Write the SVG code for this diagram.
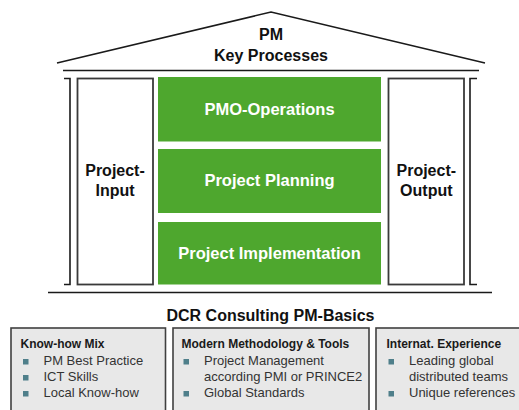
<svg xmlns="http://www.w3.org/2000/svg" width="519" height="410" viewBox="0 0 519 410">
<style>
.line{fill:none;stroke:#1a1a1a;stroke-width:1.6}
.col{fill:#fff;stroke:#3a3a3a;stroke-width:1.8}
.green{fill:#4ea72e}
.wt{font-family:"Liberation Sans",Arial,sans-serif;font-weight:bold;font-size:16.5px;fill:#fff;text-anchor:middle}
.bt{font-family:"Liberation Sans",Arial,sans-serif;font-weight:bold;font-size:16px;fill:#111;text-anchor:middle}
.box{fill:#e8e8e8;stroke:#404040;stroke-width:1.6}
.hd{font-family:"Liberation Sans",Arial,sans-serif;font-weight:bold;font-size:12px;fill:#1a1a1a}
.it{font-family:"Liberation Sans",Arial,sans-serif;font-size:13px;fill:#333}
.bul{fill:#4f7f8a}
</style>
<rect width="519" height="410" fill="#fff"/>
<g id="roof">
<polyline class="line" points="57,63 271,12 485,63"/>
<line class="line" x1="63" y1="70.5" x2="479" y2="70.5"/>
<text class="bt" x="271" y="40" font-size="17">PM</text>
<text class="bt" x="271" y="61">Key Processes</text>
</g>
<g id="base">
<line class="line" x1="48" y1="292.5" x2="492" y2="292.5"/>
</g>
<g id="pillar-left">
<polyline class="line" points="64,78.5 70,78.5 70,284.5 64,284.5" stroke="#3a3a3a" stroke-width="1.8"/>
<rect class="col" x="77.5" y="78.5" width="75.5" height="206"/>
<text class="bt" x="115" y="176">Project-</text>
<text class="bt" x="115" y="196">Input</text>
</g>
<g id="pillar-right">
<polyline class="line" points="477,78.5 470,78.5 470,284.5 477,284.5" stroke="#3a3a3a" stroke-width="1.8"/>
<rect class="col" x="388.5" y="78.5" width="75.5" height="206"/>
<text class="bt" x="426.3" y="176">Project-</text>
<text class="bt" x="426.3" y="196">Output</text>
</g>
<g id="pmo-operations">
<rect class="green" x="158" y="77" width="223" height="64.5"/>
<text class="wt" x="269.5" y="115">PMO-Operations</text>
</g>
<g id="project-planning">
<rect class="green" x="158" y="149" width="223" height="64"/>
<text class="wt" x="269.5" y="186">Project Planning</text>
</g>
<g id="project-implementation">
<rect class="green" x="158" y="222" width="223" height="62.5"/>
<text class="wt" x="269.5" y="259">Project Implementation</text>
</g>
<g id="basics-title">
<text class="bt" x="270.5" y="321">DCR Consulting PM-Basics</text>
</g>
<g id="knowhow">
<rect class="box" x="11" y="328" width="154.5" height="100"/>
<text class="hd" x="20.5" y="348">Know-how Mix</text>
<rect class="bul" x="23" y="359" width="5.5" height="5.5"/>
<text class="it" x="43.5" y="365">PM Best Practice</text>
<rect class="bul" x="23" y="375" width="5.5" height="5.5"/>
<text class="it" x="43.5" y="381">ICT Skills</text>
<rect class="bul" x="23" y="391" width="5.5" height="5.5"/>
<text class="it" x="43.5" y="397">Local Know-how</text>
</g>
<g id="methodology">
<rect class="box" x="173" y="328" width="196" height="100"/>
<text class="hd" x="181.5" y="348">Modern Methodology &amp; Tools</text>
<rect class="bul" x="183.5" y="359" width="5.5" height="5.5"/>
<text class="it" x="204" y="365">Project Management</text>
<text class="it" x="204" y="381">according PMI or PRINCE2</text>
<rect class="bul" x="183.5" y="391" width="5.5" height="5.5"/>
<text class="it" x="204" y="397">Global Standards</text>
</g>
<g id="experience">
<rect class="box" x="376" y="328" width="160" height="100"/>
<text class="hd" x="386.5" y="348">Internat. Experience</text>
<rect class="bul" x="388.5" y="359" width="5.5" height="5.5"/>
<text class="it" x="409" y="365">Leading global</text>
<text class="it" x="409" y="381">distributed teams</text>
<rect class="bul" x="388.5" y="391" width="5.5" height="5.5"/>
<text class="it" x="409" y="397">Unique references</text>
</g>
<g id="connectors"></g>
</svg>
